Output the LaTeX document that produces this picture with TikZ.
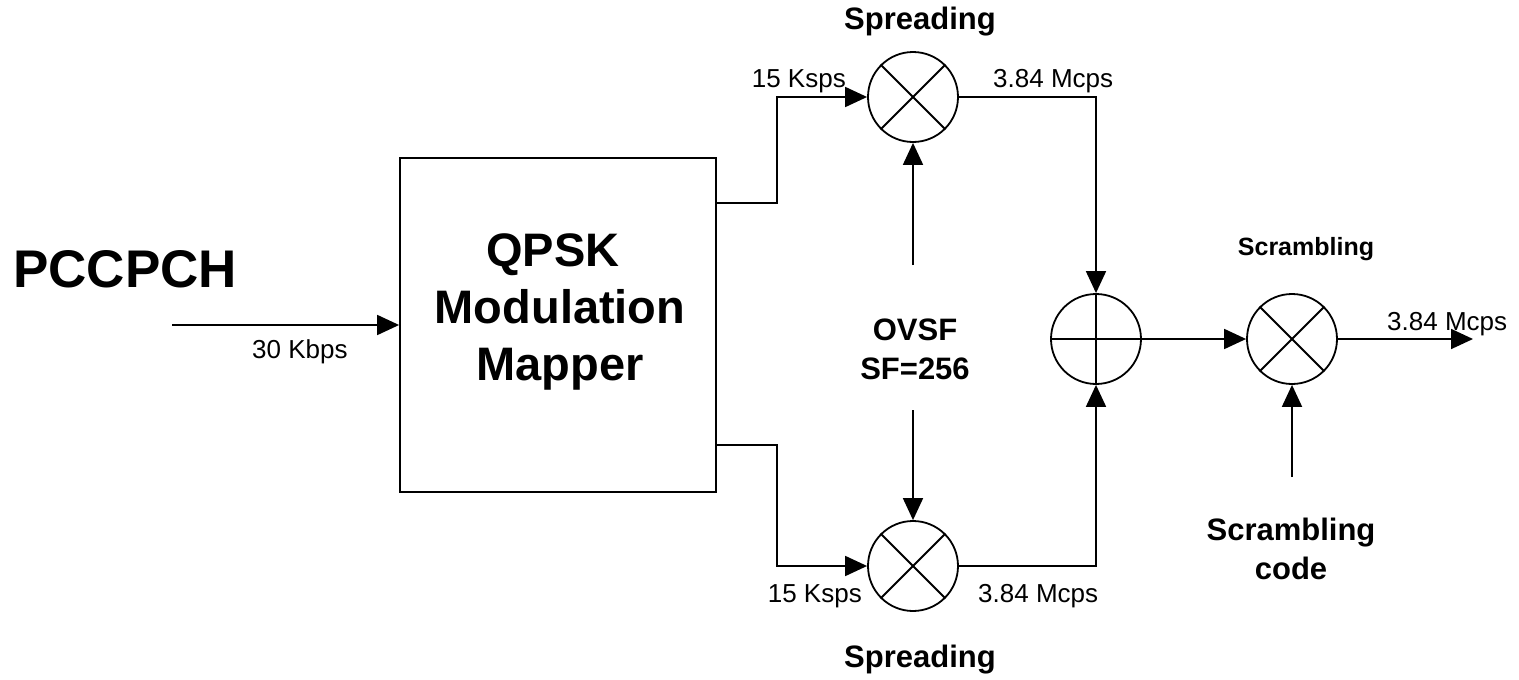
\documentclass[tikz,border=0pt]{standalone}
\usepackage{fontspec}
\setmainfont{Liberation Sans}
\usetikzlibrary{arrows.meta,calc}
\tikzset{
  ln/.style={line width=1.8pt},
  arr/.style={ln,-{Triangle[length=22pt,width=20pt]}},
  mixer/.style={circle,draw,line width=1.8pt,minimum size=90pt,inner sep=0pt},
  lbl/.style={inner sep=0pt,font=\fontsize{26pt}{30pt}\selectfont},
  bold/.style={inner sep=0pt,font=\fontsize{31pt}{39pt}\selectfont\bfseries,align=center},
}
\begin{document}
\begin{tikzpicture}[x=1pt,y=-1pt]
\useasboundingbox (0,0) rectangle (1519,680);
% box
\node[draw,ln,minimum width=316pt,minimum height=334pt,inner sep=0pt] (box) at (558,325) {};
\node[inner sep=0pt,align=center,font=\fontsize{47pt}{57pt}\selectfont\bfseries] (btxt) at (560,312) {QPSK\hspace*{14pt}\\Modulation\\Mapper};
% mixers
\node[mixer] (m1) at (913,97) {};
\node[mixer] (m2) at (913,566) {};
\node[mixer] (sum) at (1096,339) {};
\node[mixer] (scr) at (1292,339) {};
\foreach \n in {m1,m2,scr}{
  \draw[ln] (\n.north west) -- (\n.south east);
  \draw[ln] (\n.north east) -- (\n.south west);
}
\draw[ln] (sum.north) -- (sum.south);
\draw[ln] (sum.west) -- (sum.east);
% coordinates
\coordinate (in) at (172,325);
\coordinate (u0) at (716,203);
\coordinate (l0) at (716,445);
\coordinate (o1) at (913,265);
\coordinate (o2) at (913,410);
\coordinate (sc) at (1292,477);
\coordinate (out) at (1473,339);
% connectors
\draw[arr] (in) -- (box.west);
\draw[arr] (u0) -- ++(61,0) |- (m1);
\draw[arr] (l0) -- ++(61,0) |- (m2);
\draw[arr] (m1) -| (sum);
\draw[arr] (m2) -| (sum);
\draw[arr] (o1) -- (m1);
\draw[arr] (o2) -- (m2);
\draw[arr] (sum) -- (scr);
\draw[arr] (sc) -- (scr);
\draw[arr] (scr) -- (out);
% labels
\node[anchor=base west,inner sep=0pt,font=\fontsize{53pt}{60pt}\selectfont\bfseries] (pcc) at (13,287) {PCCPCH};
\node[lbl,anchor=base west] (l30) at (252,358) {30 Kbps};
\node[lbl,anchor=base east] (l15a) at (846,87) {15 Ksps};
\node[lbl,anchor=base west] (l384a) at (993,87) {3.84 Mcps};
\node[lbl,anchor=base east] (l15b) at (862,602) {15 Ksps};
\node[lbl,anchor=base west] (l384b) at (978,602) {3.84 Mcps};
\node[lbl,anchor=base west] (l384c) at (1387,330) {3.84 Mcps};
\node[bold,anchor=base] (sp1) at (920,30) {Spreading};
\node[bold,anchor=base] (sp2) at (920,667) {Spreading};
\node[bold] (ovsf) at (915,349) {OVSF\\SF=256};
\node[inner sep=0pt,anchor=base,font=\fontsize{25pt}{30pt}\selectfont\bfseries] (scl) at (1306,255) {Scrambling};
\node[bold] (scc) at (1291,549) {Scrambling\\code};
\end{tikzpicture}
\end{document}
